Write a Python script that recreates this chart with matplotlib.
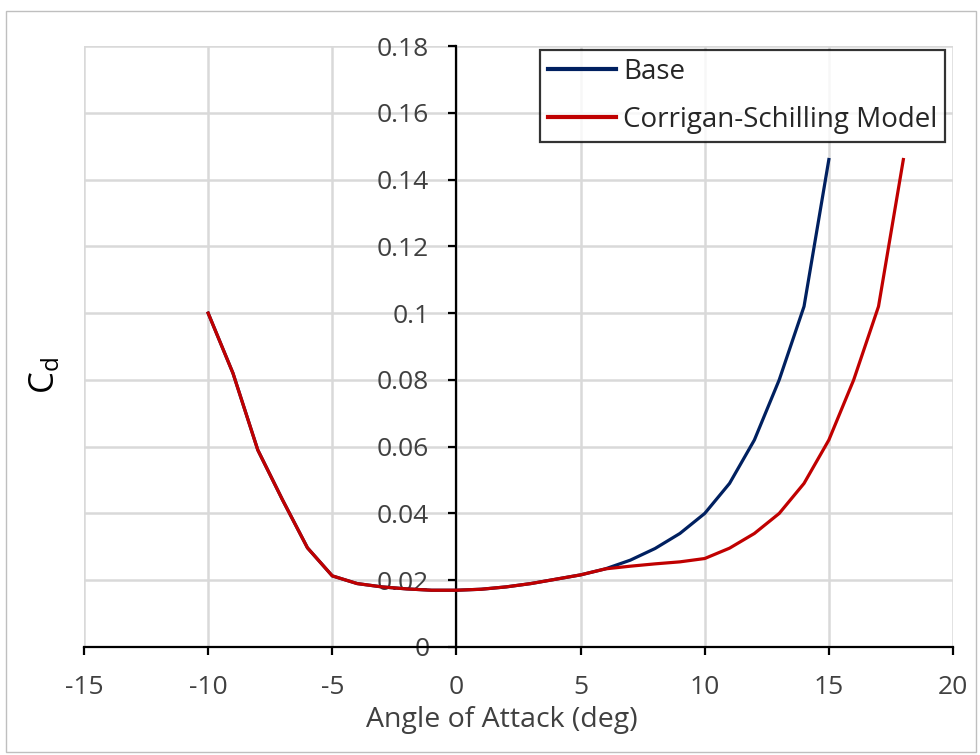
import matplotlib
matplotlib.use("Agg")
import matplotlib.pyplot as plt
from matplotlib.patches import Rectangle

plt.rcParams['font.family'] = ['Open Sans', 'DejaVu Sans']
plt.rcParams['mathtext.fontset'] = 'custom'
plt.rcParams['mathtext.rm'] = 'Open Sans'
plt.rcParams['axes.unicode_minus'] = False

alpha_base = [-10, -9, -8, -7, -6, -5, -4, -3, -2, -1, 0, 1, 2, 3, 4, 5, 6,
              7, 8, 9, 10, 11, 12, 13, 14, 15]
cd_base = [0.100, 0.082, 0.059, 0.044, 0.0297, 0.0213, 0.019, 0.018, 0.0174, 0.017, 0.017,
           0.0173, 0.018, 0.019, 0.0203, 0.0216, 0.0234,
           0.026, 0.0295, 0.034, 0.040, 0.049, 0.062, 0.080, 0.102, 0.146]

alpha_cs = [-10, -9, -8, -7, -6, -5, -4, -3, -2, -1, 0, 1, 2, 3, 4, 5, 6,
            7, 8, 9, 10, 11, 12, 13, 14, 15, 16, 17, 18]
cd_cs = [0.100, 0.082, 0.059, 0.044, 0.0297, 0.0213, 0.019, 0.018, 0.0174, 0.017, 0.017,
         0.0173, 0.018, 0.019, 0.0203, 0.0216, 0.0234,
         0.0242, 0.0249, 0.0255, 0.0265, 0.0296, 0.034, 0.040, 0.049, 0.062, 0.080, 0.102, 0.146]

xticks = [-15, -10, -5, 0, 5, 10, 15, 20]
yticks = [0, 0.02, 0.04, 0.06, 0.08, 0.1, 0.12, 0.14, 0.16, 0.18]
ytick_labels = ['0', '0.02', '0.04', '0.06', '0.08', '0.1', '0.12', '0.14', '0.16', '0.18']

fig = plt.figure(figsize=(9.8, 7.55), dpi=100)
fig.patches.append(Rectangle((0.006, 0.004), 0.99, 0.982, transform=fig.transFigure,
                             fill=False, edgecolor='#bfbfbf', linewidth=1.0))
ax = fig.add_axes([84/980, 1-647/755, (953-84)/980, (647-46)/755])

ax.plot(alpha_base, cd_base, color='#002060', linewidth=2.3, label='Base', zorder=3)
ax.plot(alpha_cs, cd_cs, color='#C00000', linewidth=2.3, label='Corrigan-Schilling Model', zorder=4)

ax.set_xlim(-15, 20)
ax.set_ylim(0, 0.18)
ax.set_xticks(xticks)
ax.set_yticks(yticks)
ax.set_yticklabels(ytick_labels)

ax.grid(True, color='#d9d9d9', linewidth=1.8, zorder=0)
ax.set_axisbelow(True)

for s in ['top', 'right']:
    ax.spines[s].set_visible(False)
ax.spines['left'].set_position(('data', 0))
ax.spines['bottom'].set_position(('data', 0))
ax.spines['left'].set_linewidth(1.6)
ax.spines['bottom'].set_linewidth(1.6)
ax.spines['left'].set_zorder(2)
ax.spines['bottom'].set_zorder(2)

ax.tick_params(axis='both', direction='out', length=5.5, width=1.6, labelsize=19, colors='black',
               labelcolor='#404040')
ax.tick_params(axis='y', pad=14)
ax.tick_params(axis='x', pad=15)
for lab in ax.get_yticklabels():
    lab.set_zorder(5)

ax.set_xlabel('Angle of Attack (deg)', fontsize=20.5, color='#404040')
ax.xaxis.set_label_coords((502-84)/869, (647-720)/601, transform=ax.transAxes)
ax.xaxis.label.set_va('center')
fig.text(45/980, 1-376/755, r'$\mathregular{C_d}$', rotation=90, fontsize=25,
         color='black', ha='center', va='center')

leg = ax.legend(loc='upper right', bbox_to_anchor=((945-84)/869, (647-50)/601), fontsize=20,
                frameon=True, fancybox=False, edgecolor='black', borderpad=0.28,
                handlelength=2.45, handletextpad=0.25, labelspacing=0.72, borderaxespad=0.0)
leg.get_frame().set_linewidth(1.6)
for t in leg.get_texts():
    t.set_color('#262626')
for l in leg.get_lines():
    l.set_linewidth(3)

fig.savefig('out.png', dpi=100)
